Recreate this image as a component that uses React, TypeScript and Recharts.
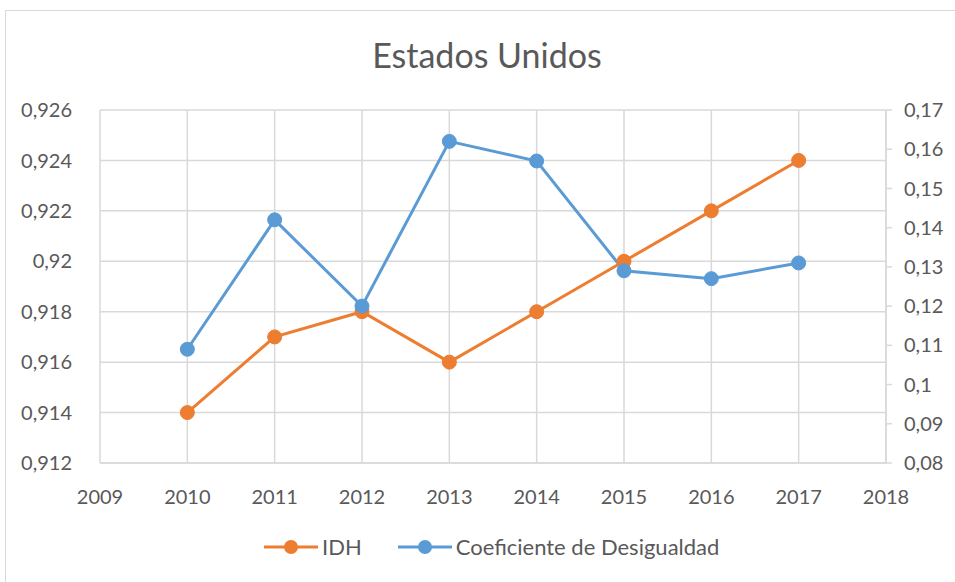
import React from "react";
import { LineChart, Line, XAxis, YAxis, CartesianGrid } from "recharts";

const years = [2010, 2011, 2012, 2013, 2014, 2015, 2016, 2017];
const idh = [0.914, 0.917, 0.918, 0.916, 0.918, 0.92, 0.922, 0.924];
const desigualdad = [0.109, 0.142, 0.12, 0.162, 0.157, 0.129, 0.127, 0.131];

const xTicks = [2009, 2010, 2011, 2012, 2013, 2014, 2015, 2016, 2017, 2018];
const leftTicks = [0.912, 0.914, 0.916, 0.918, 0.92, 0.922, 0.924, 0.926];
const rightTicks = [0.08, 0.09, 0.1, 0.11, 0.12, 0.13, 0.14, 0.15, 0.16, 0.17];

const ORANGE = "#ED7D31";
const BLUE = "#5B9BD5";
const GRID = "#d9d9d9";
const TEXT = "#595959";
const FONT = "Lato, 'Open Sans', sans-serif";

const data = years.map((y, i) => ({ year: y, idh: idh[i], coef: desigualdad[i] }));

// comma as decimal separator, like the spanish excel chart
const fmt = (v: number) => String(v).replace(".", ",");

const LegendItem = ({ color, label, gap }: { color: string; label: string; gap: number }) => (
  <div style={{ display: "flex", alignItems: "center", marginRight: gap }}>
    <svg width={54} height={16}>
      <line x1={0} y1={8} x2={54} y2={8} stroke={color} strokeWidth={3} />
      <circle cx={27} cy={8} r={7} fill={color} />
    </svg>
    <span style={{ marginLeft: 4 }}>{label}</span>
  </div>
);

const App = () => {
  return (
    <div
      style={{
        position: "absolute",
        left: 0,
        top: 0,
        width: 955,
        height: 582,
        overflow: "hidden",
        background: "#fff",
        fontFamily: FONT,
        color: TEXT,
      }}
    >
      <div
        style={{
          position: "absolute",
          left: 5,
          top: 10,
          width: 1000,
          height: 700,
          border: `1.5px solid ${GRID}`,
        }}
      />
      <div
        style={{
          position: "absolute",
          top: 34,
          left: 0,
          width: 974,
          textAlign: "center",
          fontSize: 34,
        }}
      >
        Estados Unidos
      </div>
      <div style={{ position: "absolute", left: 0, top: 0 }}>
        <LineChart
          width={955}
          height={582}
          data={data}
          margin={{ top: 110, right: 0, left: 0, bottom: 70 }}
        >
          <CartesianGrid yAxisId="left" stroke={GRID} strokeWidth={1.5} />
          <XAxis
            dataKey="year"
            type="number"
            domain={[2009, 2018]}
            ticks={xTicks}
            interval={0}
            height={49}
            tickLine={false}
            axisLine={{ stroke: GRID, strokeWidth: 1.5 }}
            tickMargin={21}
            tick={{ fill: TEXT, fontSize: 20, fontFamily: FONT }}
          />
          <YAxis
            yAxisId="left"
            domain={[0.912, 0.926]}
            ticks={leftTicks}
            interval={0}
            width={100}
            axisLine={false}
            tickLine={false}
            tickMargin={22}
            tickFormatter={fmt}
            tick={{ fill: TEXT, fontSize: 20, fontFamily: FONT }}
          />
          <YAxis
            yAxisId="right"
            orientation="right"
            domain={[0.08, 0.17]}
            ticks={rightTicks}
            interval={0}
            width={69}
            axisLine={{ stroke: GRID, strokeWidth: 1.5 }}
            tickLine={{ stroke: GRID, strokeWidth: 1.5 }}
            tickSize={6}
            tickMargin={12}
            tickFormatter={fmt}
            tick={{ fill: TEXT, fontSize: 20, fontFamily: FONT }}
          />
          <Line
            yAxisId="left"
            dataKey="idh"
            type="linear"
            stroke={ORANGE}
            strokeWidth={3}
            dot={{ r: 7, fill: ORANGE, stroke: ORANGE, strokeWidth: 1 }}
            isAnimationActive={false}
          />
          <Line
            yAxisId="right"
            dataKey="coef"
            type="linear"
            stroke={BLUE}
            strokeWidth={3}
            dot={{ r: 7, fill: BLUE, stroke: BLUE, strokeWidth: 1 }}
            isAnimationActive={false}
          />
        </LineChart>
      </div>
      <div
        style={{
          position: "absolute",
          top: 533,
          left: 264,
          display: "flex",
          fontSize: 22,
        }}
      >
        <LegendItem color={ORANGE} label="IDH" gap={36} />
        <LegendItem color={BLUE} label="Coeficiente de Desigualdad" gap={0} />
      </div>
    </div>
  );
};

export default App;
